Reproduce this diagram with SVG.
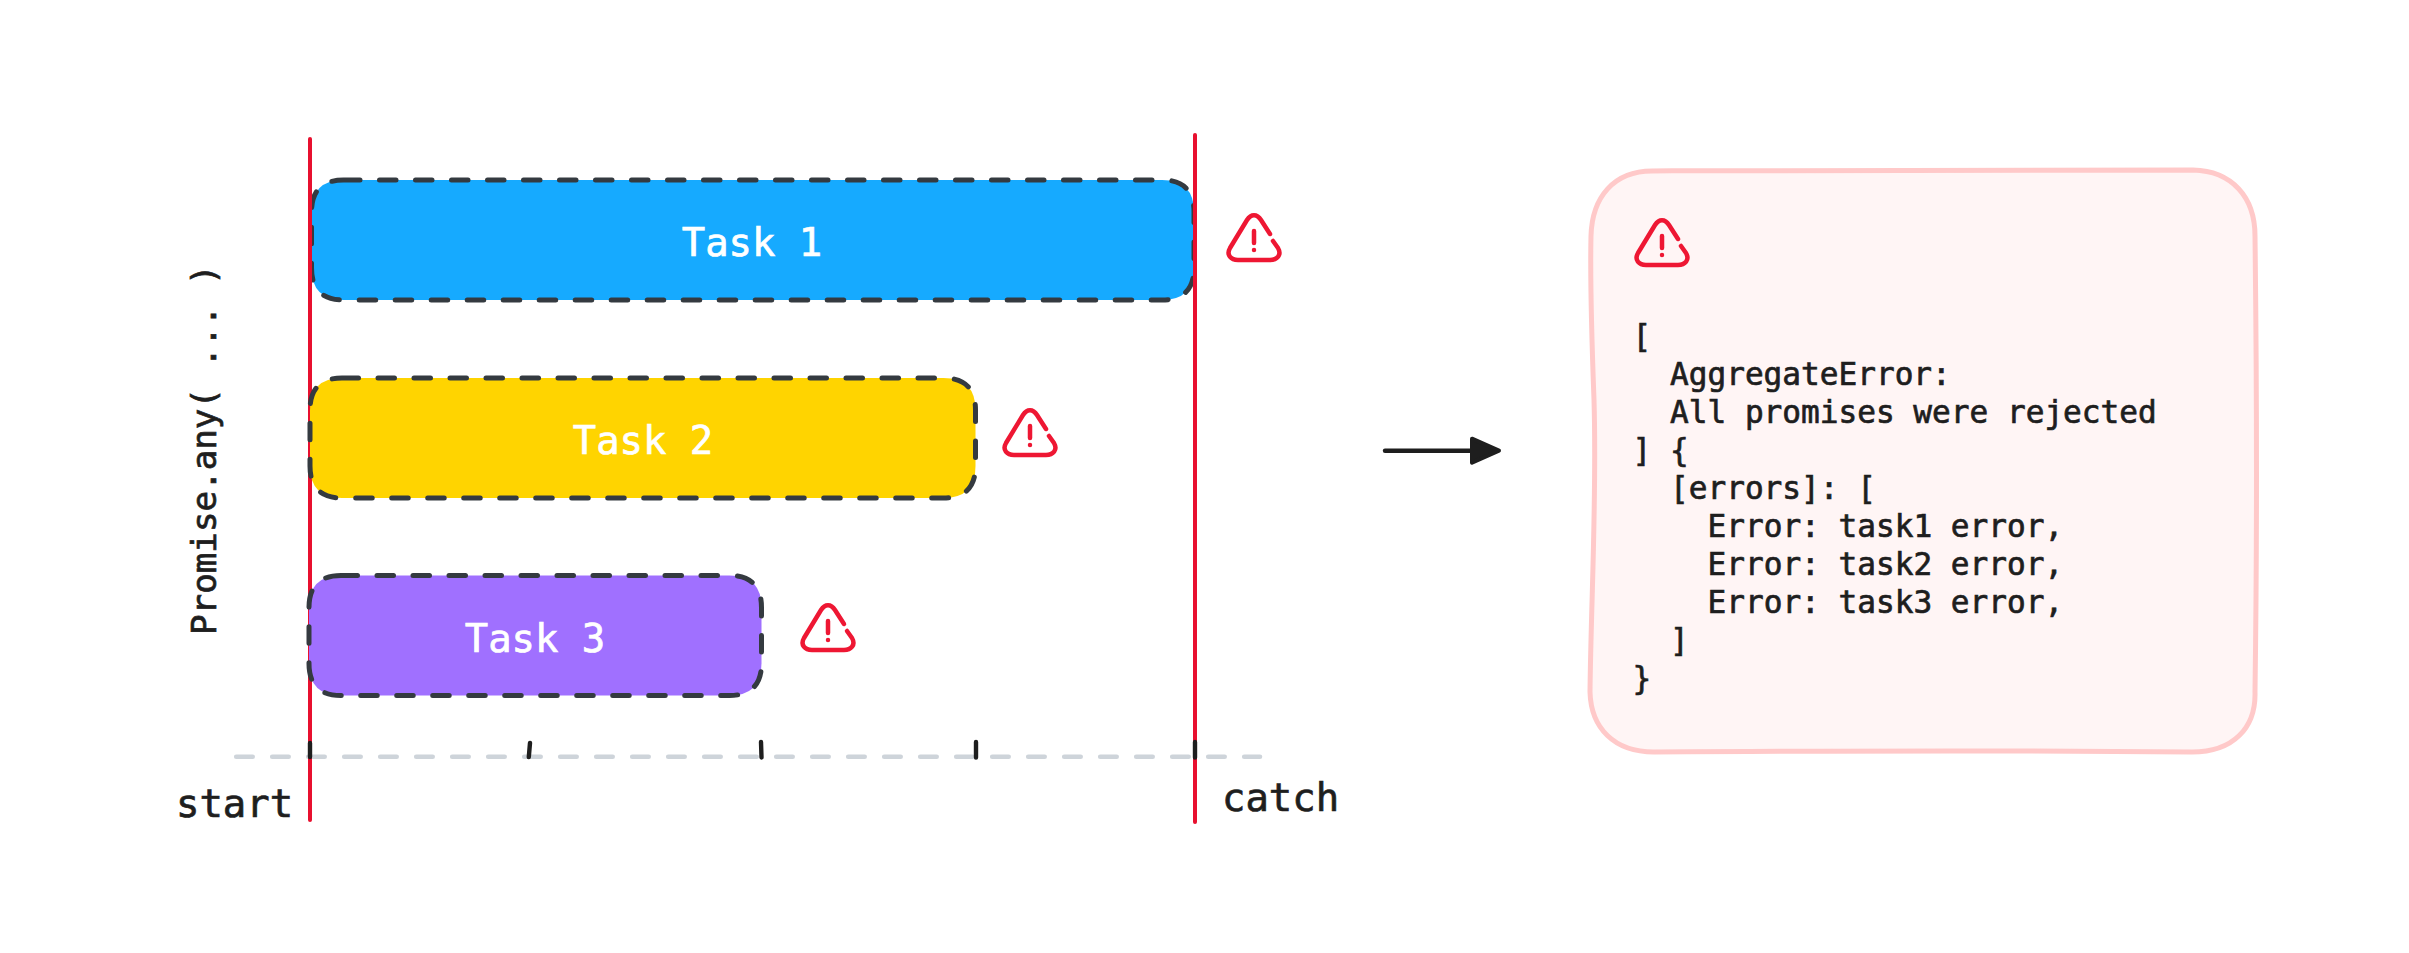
<svg xmlns="http://www.w3.org/2000/svg" width="2409" height="953" viewBox="0 0 2409 953">
<style>
.t{font-family:"DejaVu Sans Mono","Liberation Mono",monospace;fill:#1e1e1e;stroke:#1e1e1e;stroke-width:.7px}
.lg{font-size:38.9px}
.task{fill:#fff;stroke:#fff;text-anchor:middle}
.code{font-size:31.1px}
.box{stroke:#343a40;stroke-width:5;stroke-dasharray:16.5 19.5;stroke-linecap:round;stroke-linejoin:round}
.red{stroke:#e8102f;stroke-width:4;stroke-linecap:round;fill:none}
.tick{stroke:#1e1e1e;stroke-width:4.4;stroke-linecap:round;fill:none}
.warn{stroke:#ee1733;stroke-width:4.5;stroke-linecap:round;stroke-linejoin:round;fill:none}
</style>
<defs>
<g id="warn" class="warn">
<path d="M19 26L24 33C28 40 23 45 16 45L-16 45C-23 45 -28 40 -24 33L-7 5C-3 -1.5 3 -1.5 7 5L16 19"/>
<path d="M0 16L0 28M0 35L0 35.1"/>
</g>
<marker id="head" markerUnits="userSpaceOnUse" markerWidth="34" markerHeight="34" viewBox="0 0 34 34" refX="2" refY="17" orient="auto">
<path d="M2 5L29 17L2 29Z" fill="#1e1e1e" stroke="#1e1e1e" stroke-width="4" stroke-linejoin="round"/>
</marker>
</defs>
<rect width="2409" height="953" fill="#fff"/>
<g id="task1">
<path class="box" fill="#16aaff" d="M343.5 180L1162 180Q1194 180 1194 212L1194 268Q1194 300 1162 300L343.5 300Q311.5 300 311.5 268L311.5 212Q311.5 180 343.5 180Z"/>
<text class="t lg task" x="752" y="256">Task 1</text>
</g>
<g id="timeline">
<line x1="236.2" y1="756.7" x2="1260" y2="756.7" stroke="#ced4da" stroke-width="4.6" stroke-dasharray="16.5 19.5" stroke-linecap="round"/>
<line class="red" x1="310" y1="139" x2="310" y2="820"/>
<line class="red" x1="1195" y1="135" x2="1195" y2="822"/>
<path class="tick" d="M310 743L310 757M530 743L528.8 757M761 742L761.5 757.5M976 742L976 757.5M1195 742L1195 757.5"/>
<text class="t lg" x="176" y="817">start</text>
<text class="t lg" x="1222" y="811">catch</text>
</g>
<g id="task2">
<path class="box" fill="#ffd400" d="M342 378L943.5 378Q975.5 378 975.5 410L975.5 466Q975.5 498 943.5 498L342 498Q310 498 310 466L310 410Q310 378 342 378Z"/>
<text class="t lg task" x="643" y="454">Task 2</text>
</g>
<g id="task3">
<path class="box" fill="#a070ff" d="M341 575.5L729.5 575.5Q761.5 575.5 761.5 607.5L761.5 663.5Q761.5 695.5 729.5 695.5L341 695.5Q309 695.5 309 663.5L309 607.5Q309 575.5 341 575.5Z"/>
<text class="t lg task" x="535" y="652">Task 3</text>
</g>
<g id="label"><text class="t" font-size="34.2" transform="translate(216 635) rotate(-90)">Promise.any( ... )</text></g>
<g id="warn1"><use href="#warn" x="1254" y="215"/></g>
<g id="warn2"><use href="#warn" x="1030" y="410"/></g>
<g id="warn3"><use href="#warn" x="828" y="605"/></g>
<g id="connectors">
<line x1="1385" y1="450.7" x2="1472" y2="450.7" stroke="#1e1e1e" stroke-width="4.4" stroke-linecap="round" marker-end="url(#head)"/>
</g>
<g id="result">
<path fill="#fff5f5" stroke="#ffc9c9" stroke-width="5" stroke-linejoin="round" d="M1652 171C1850 169 2050 169 2193 170C2232 171 2255 197 2255 236C2257 400 2257 550 2255 692C2256 728 2233 752 2192 752C2000 750 1800 751 1654 752C1614 752 1591 728 1590 692C1591 600 1597 500 1594 400C1591 320 1590 280 1591 236C1592 197 1614 171 1652 171Z"/>
<use href="#warn" x="1662" y="220"/>
<g class="t code" style="white-space:pre">
<text x="1632.5" y="347">[</text>
<text x="1670" y="385">AggregateError:</text>
<text x="1670" y="423">All promises were rejected</text>
<text x="1632.5" y="461">] {</text>
<text x="1670" y="499">[errors]: [</text>
<text x="1707.5" y="537">Error: task1 error,</text>
<text x="1707.5" y="575">Error: task2 error,</text>
<text x="1707.5" y="613">Error: task3 error,</text>
<text x="1670" y="651">]</text>
<text x="1632.5" y="689">}</text>
</g>
</g>
</svg>
